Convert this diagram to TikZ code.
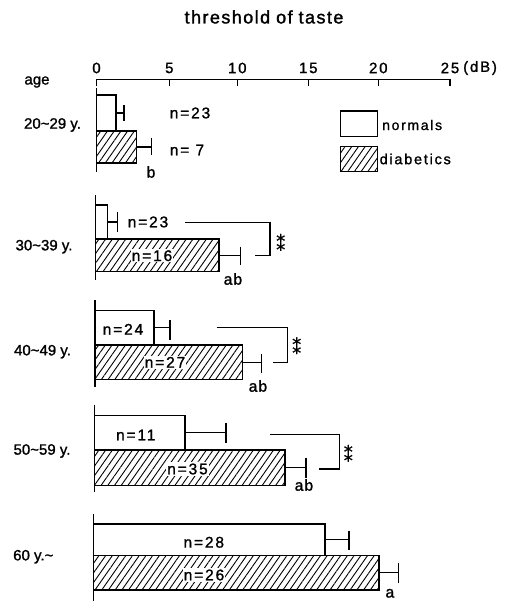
\documentclass[tikz,border=0pt]{standalone}
\usepackage{fontspec}
\setmainfont{Liberation Sans}[FakeBold=1.3]
\newfontfamily\trk{Liberation Sans}[LetterSpace=12,FakeBold=1.3]
\newfontfamily\ttl{Liberation Sans}[LetterSpace=8,FakeBold=1.6]
\newfontfamily\mono{Liberation Mono}[FakeBold=1.3]
\newfontfamily\astf{DejaVu Sans}[FakeBold=1.0]
\usetikzlibrary{patterns.meta}
\begin{document}
\begin{tikzpicture}[x=1pt,y=-1pt,
  bar/.style={draw, line width=1.2pt},
  hbar/.style={bar, pattern={Lines[angle=55,distance=5.5pt,line width=0.9pt]}},
  err/.style={line width=1.1pt},
  axisline/.style={line width=1.3pt},
  lab/.style={font=\fontsize{15}{15}\selectfont, inner sep=0pt},
  tick/.style={font=\trk\fontsize{15}{15}\selectfont, inner sep=0pt},
  nlab/.style={font=\trk\fontsize{15.5}{15}\selectfont, inner sep=0pt},
  wlab/.style={font=\trk\fontsize{15.5}{15}\selectfont, inner sep=1.2pt, fill=white},
  letter/.style={font=\mono\fontsize{16}{16}\selectfont, inner sep=0pt},
  ast/.style={font=\astf\fontsize{18}{18}\selectfont, inner sep=0pt},
]
\useasboundingbox (0,0) rectangle (506,601);
% title
\node[font=\ttl\fontsize{18}{18}\selectfont, inner sep=0pt] (title) at (264,17) {threshold\hspace{6pt}of\hspace{6pt}taste};
% axis
\draw[axisline] (96.5,86) -- (96.5,79.3) -- (450,79.3) -- (450,86);
\foreach \xx in {169.3,237.3,308.3,378.3} \draw[axisline] (\xx,79.3) -- (\xx,86);
\node[tick] (t0) at (96.5,68) {0};
\node[tick] (t5) at (169.3,68) {5};
\node[tick] (t10) at (237.3,68) {10};
\node[tick] (t15) at (308.3,68) {15};
\node[tick] (t20) at (378.3,68) {20};
\node[tick] (t25) at (450,68) {25};
\node[tick, anchor=west] (db) at (463,68) {(dB)};
% left labels
\node[lab] (age) at (37,82) {age};
\node[lab] (g1) at (52.5,125) {20\textasciitilde29 y.};
\node[lab] (g2) at (44,246.7) {30\textasciitilde39 y.};
\node[lab] (g3) at (42.5,351.7) {40\textasciitilde49 y.};
\node[lab] (g4) at (42,451) {50\textasciitilde59 y.};
\node[lab] (g5) at (33.3,556.7) {60 y.\textasciitilde};
% legend
\draw[bar] (340.7,111) rectangle (377.7,136.7);
\draw[hbar] (340.7,146.7) rectangle (377.7,171.7);
\node[lab, anchor=west, font=\trk\fontsize{14}{14}\selectfont] (ln) at (382,125) {normals};
\node[lab, anchor=west, font=\trk\fontsize{14.5}{14}\selectfont] (ld) at (379.5,159) {diabetics};
% ---------- group 1
\draw[axisline] (96.5,88) -- (96.5,172);
\draw[bar] (96.5,95) rectangle (116,131);
\draw[hbar] (96.5,131) rectangle (136.7,163);
\draw[err] (116,113) -- (124,113) (124,105) -- (124,121);
\draw[err] (136.7,147) -- (151.7,147) (151.7,138.5) -- (151.7,155.5);
\node[letter] (b1) at (151,172) {b};
\node[nlab] (n1a) at (190,113) {n=23};
\node[nlab] (n1b) at (187,150) {n= 7};
% ---------- group 2
\draw[axisline] (95.7,195) -- (95.7,280);
\draw[bar] (95.7,205) rectangle (107.7,239);
\draw[hbar] (95.7,239) rectangle (219,271.7);
\draw[err] (107.7,222) -- (117.3,222) (117.3,212) -- (117.3,232.5);
\draw[err] (219,255.3) -- (240.7,255.3) (240.7,246.7) -- (240.7,265);
\node[letter] (ab2) at (233,279) {ab};
\node[nlab] (n2a) at (148,222) {n=23};
\node[wlab] (n2b) at (152,255.7) {n=16};
\draw[err] (185,222.3) -- (270,222.3) -- (270,255.7) -- (255,255.7);
\node[ast] (s2) at (280.7,242.4) {⁑};
% ---------- group 3
\draw[axisline] (95,300) -- (95,386.7);
\draw[bar] (95,310.7) rectangle (154,345);
\draw[hbar] (95,345) rectangle (242.3,379.3);
\draw[err] (154,327.8) -- (170,327.8) (170,320) -- (170,340);
\draw[err] (242.3,362.2) -- (261.7,362.2) (261.7,354) -- (261.7,372.7);
\node[letter] (ab3) at (258,386) {ab};
\node[nlab] (n3a) at (123,329.3) {n=24};
\node[wlab] (n3b) at (165,362.3) {n=27};
\draw[err] (216.7,327.7) -- (287.3,327.7) -- (287.3,362.7) -- (272.7,362.7);
\node[ast] (s3) at (296.7,345.7) {⁑};
% ---------- group 4
\draw[axisline] (94.3,405) -- (94.3,491.7);
\draw[bar] (94.3,415.7) rectangle (185,450);
\draw[hbar] (94.3,450) rectangle (285,485.7);
\draw[err] (185,432.8) -- (226,432.8) (226,423) -- (226,442.7);
\draw[err] (285,467.8) -- (306,467.8) (306,458) -- (306,478);
\node[letter] (ab4) at (304,485) {ab};
\node[nlab] (n4a) at (135.8,435) {n=11};
\node[wlab] (n4b) at (187.5,469) {n=35};
\draw[err] (270,434.3) -- (339.3,434.3) -- (339.3,469) -- (319.3,469);
\node[ast] (s4) at (348.3,453.3) {⁑};
% ---------- group 5
\draw[axisline] (93.3,514) -- (93.3,600.7);
\draw[bar] (93.3,524) rectangle (325,555.7);
\draw[hbar] (93.3,555.7) rectangle (379,590);
\draw[err] (325,539.8) -- (349,539.8) (349,530.7) -- (349,550);
\draw[err] (379,572.8) -- (398.3,572.8) (398.3,563.3) -- (398.3,583.3);
\node[letter] (a5) at (390,593.3) {a};
\node[nlab] (n5a) at (203.8,542.3) {n=28};
\node[wlab] (n5b) at (204,575) {n=26};
\end{tikzpicture}
\end{document}
